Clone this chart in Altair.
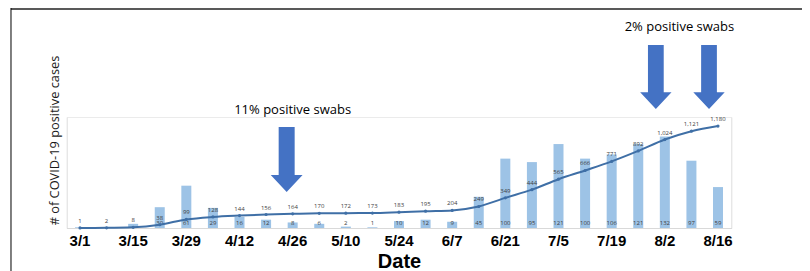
import altair as alt
import pandas as pd

# ---- data ----
dates = ["3/1", "3/8", "3/15", "3/22", "3/29", "4/5", "4/12", "4/19", "4/26",
         "5/3", "5/10", "5/17", "5/24", "5/31", "6/7", "6/14", "6/21", "6/28",
         "7/5", "7/12", "7/19", "7/26", "8/2", "8/9", "8/16"]
weekly_cases = [1, 1, 6, 30, 61, 29, 16, 12, 8, 6, 2, 1, 10, 12, 9, 45, 100, 95,
                121, 100, 106, 121, 132, 97, 59]
cumulative_cases = [1, 2, 8, 38, 99, 128, 144, 156, 164, 170, 172, 173, 183, 195,
                    204, 249, 349, 444, 565, 666, 771, 892, 1024, 1121, 1180]
tick_labels = ["3/1", "3/15", "3/29", "4/12", "4/26", "5/10", "5/24", "6/7",
               "6/21", "7/5", "7/19", "8/2", "8/16"]
first_bar_label = 3  # weekly labels hidden under the line for the first weeks

note_low_text = ["11% positive swabs"]
note_low_date = ["4/26"]
note_high_text = ["2% positive swabs"]
note_high_anchor = ["8/9"]
arrow_high_dates = ["8/2", "8/16"]

df = pd.DataFrame({
    "date": dates,
    "weekly": weekly_cases,
    "cumulative": cumulative_cases,
})
df["bar_label"] = [str(v) if i >= first_bar_label else "" for i, v in enumerate(weekly_cases)]

W = 664.6
H = 111
LINE_MAX = 1285
BAR_MAX = 143

x_enc = alt.X(
    "date:N", sort=dates,
    scale=alt.Scale(domain=dates, paddingInner=0, paddingOuter=0),
    axis=alt.Axis(
        values=tick_labels, title="Date", labelAngle=0, ticks=False,
        labelFont="Liberation Sans", labelFontWeight="bold", labelFontSize=15,
        labelColor="#000000", labelPadding=5, domainColor="#D9D9D9",
        titleFont="Liberation Sans", titleFontWeight="bold", titleFontSize=20,
        titleColor="#000000", titlePadding=3, grid=False,
    ),
)

base = alt.Chart(df)

bars = base.mark_bar(size=10, color="#9DC3E6").encode(
    x=x_enc,
    y=alt.Y("weekly:Q", scale=alt.Scale(domain=[0, BAR_MAX]), axis=None),
)
bar_text = base.mark_text(fontSize=6, font="Open Sans", color="#404040", baseline="middle", dy=-5).encode(
    x=alt.X("date:N", sort=dates),
    y=alt.Y(datum=0),
    text="bar_label:N",
)
bar_group = alt.layer(bars, bar_text)

line = base.mark_line(
    color="#3F6FA6", strokeWidth=2, interpolate="monotone",
    point=alt.OverlayMarkDef(color="#3F6FA6", size=10, filled=True),
).encode(
    x=alt.X("date:N", sort=dates),
    y=alt.Y("cumulative:Q", scale=alt.Scale(domain=[0, LINE_MAX]),
            axis=alt.Axis(
                orient="left",
                title="# of COVID-19 positive cases", values=[LINE_MAX],
                labels=False, ticks=False, domain=False, grid=True,
                gridColor="#EBEBEB", gridWidth=1,
                titleFont="Open Sans", titleFontSize=12.8, titleFontWeight="normal",
                titleColor="#1A1A1A", titlePadding=5, titleY=23, titleAnchor="middle",
            )),
)
line_text = base.mark_text(fontSize=6, font="Open Sans", color="#404040", baseline="middle", dy=-7).encode(
    x=alt.X("date:N", sort=dates),
    y=alt.Y("cumulative:Q", scale=alt.Scale(domain=[0, LINE_MAX])),
    text=alt.Text("cumulative:Q", format=","),
)
line_group = alt.layer(line, line_text)

ARROW = "M-0.246,-1L0.246,-1L0.246,0.477L0.49,0.477L0,1L-0.49,0.477L-0.246,0.477Z"

arrow_low = alt.Chart(pd.DataFrame({"date": note_low_date})).mark_point(
    shape=ARROW, size=4225, filled=True, color="#4472C4", opacity=1, xOffset=-6
).encode(x=alt.X("date:N", sort=dates), y=alt.value(42.5))

arrow_high = alt.Chart(pd.DataFrame({"date": arrow_high_dates})).mark_point(
    shape=ARROW, size=4100, filled=True, color="#4472C4", opacity=1, xOffset=-9
).encode(x=alt.X("date:N", sort=dates), y=alt.value(-40))

note_low = alt.Chart(pd.DataFrame({"date": note_low_date, "t": note_low_text})).mark_text(
    font="Open Sans", fontSize=13, color="#000000", baseline="middle"
).encode(x=alt.X("date:N", sort=dates), y=alt.value(-7), text="t:N")

note_high = alt.Chart(pd.DataFrame({"date": note_high_anchor, "t": note_high_text})).mark_text(
    font="Open Sans", fontSize=13, color="#000000", baseline="middle", dx=-12
).encode(x=alt.X("date:N", sort=dates), y=alt.value(-90), text="t:N")

border_top = alt.Chart(pd.DataFrame({"a": [0]})).mark_rule(color="#595959", strokeWidth=2).encode(
    x=alt.value(-55.7), x2=alt.value(W + 80), y=alt.value(-108)
)
border_left = alt.Chart(pd.DataFrame({"a": [0]})).mark_rule(color="#000000", strokeWidth=1).encode(
    x=alt.value(-55.7), y=alt.value(-109), y2=alt.value(H + 60)
)

chart = alt.layer(
    bar_group, line_group, arrow_low, arrow_high, note_low, note_high, border_top, border_left
).resolve_scale(y="independent").properties(
    width=W, height=H,
    autosize=alt.AutoSizeParams(type="none"),
    padding={"left": 58.7, "top": 109, "right": 70.7, "bottom": 43},
).configure_view(stroke="transparent", strokeWidth=0).configure(background="white")

chart.save("out.html", embed_options={"renderer": "svg", "actions": False})
